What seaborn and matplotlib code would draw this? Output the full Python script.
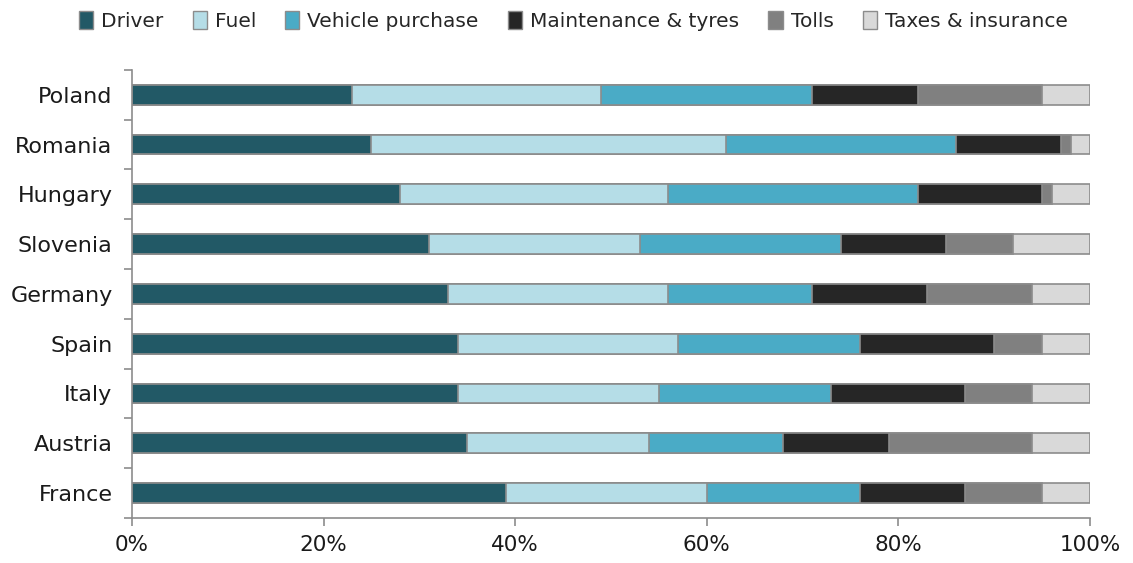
import matplotlib.pyplot as plt
import matplotlib.patches as mpatches
import matplotlib.ticker as mticker
import numpy as np
import pandas as pd
import seaborn as sns

countries = ['Poland', 'Romania', 'Hungary', 'Slovenia', 'Germany',
             'Spain', 'Italy', 'Austria', 'France']
components = ['Driver', 'Fuel', 'Vehicle purchase', 'Maintenance & tyres',
              'Tolls', 'Taxes & insurance']

# shares in %
driver = [23, 25, 28, 31, 33, 34, 34, 35, 39]
fuel = [26, 37, 28, 22, 23, 23, 21, 19, 21]
vehicle = [22, 24, 26, 21, 15, 19, 18, 14, 16]
maintenance = [11, 11, 13, 11, 12, 14, 14, 11, 11]
tolls = [13, 1, 1, 7, 11, 5, 7, 15, 8]
taxes = [5, 2, 4, 8, 6, 5, 6, 6, 5]

colors = ['#225966', '#b5dde7', '#4aabc6', '#262626', '#808080', '#d9d9d9']


def main():
    sns.set_style('white')
    plt.rcParams['font.family'] = ['DejaVu Sans']

    df = pd.DataFrame({'country': countries, 'Driver': driver, 'Fuel': fuel,
                       'Vehicle purchase': vehicle,
                       'Maintenance & tyres': maintenance,
                       'Tolls': tolls, 'Taxes & insurance': taxes})
    cum = df[components].cumsum(axis=1)
    cum['country'] = df['country']

    fig = plt.figure(figsize=(11.33, 5.63), dpi=100)
    ax = fig.add_axes([0.1165, 0.080, 0.8455, 0.796])

    # draw from the longest cumulative bar to the shortest so segments stack
    for comp, col in reversed(list(zip(components, colors))):
        sns.barplot(data=cum, x=comp, y='country', order=countries, color=col,
                    orient='h', width=0.4, edgecolor='#8c8c8c', linewidth=1.2,
                    saturation=1, ax=ax)

    ax.set_xlim(0, 100)
    ax.set_ylim(len(countries) - 0.5, -0.5)
    ax.set_xlabel('')
    ax.set_ylabel('')
    ax.xaxis.set_major_locator(mticker.MultipleLocator(20))
    ax.xaxis.set_major_formatter(mticker.FuncFormatter(lambda v, p: f'{v:.0f}%'))
    ax.set_yticks(np.arange(len(countries)))
    ax.set_yticklabels(countries)
    ax.set_yticks(np.arange(-0.5, len(countries)), minor=True)
    ax.tick_params(axis='y', which='major', left=True, length=0, labelsize=16,
                   pad=14, labelcolor='#1a1a1a')
    ax.tick_params(axis='y', which='minor', left=True, length=6,
                   color='#8c8c8c', width=1.2, direction='out')
    ax.tick_params(axis='x', bottom=True, length=6, color='#8c8c8c', width=1.2,
                   labelsize=15.5, labelcolor='#1a1a1a', pad=6)
    for s in ['top', 'right']:
        ax.spines[s].set_visible(False)
    for s in ['left', 'bottom']:
        ax.spines[s].set_color('#8c8c8c')
        ax.spines[s].set_linewidth(1.2)

    handles = [mpatches.Patch(facecolor=c, edgecolor='#8c8c8c', label=l)
               for l, c in zip(components, colors)]
    fig.legend(handles=handles, loc='upper center', bbox_to_anchor=(0.506, 1.012),
               ncol=6, frameon=False, fontsize=14.5, handlelength=0.7,
               handleheight=1.0, handletextpad=0.4, columnspacing=1.45)

    fig.savefig('out.png', dpi=100)


if __name__ == '__main__':
    main()
